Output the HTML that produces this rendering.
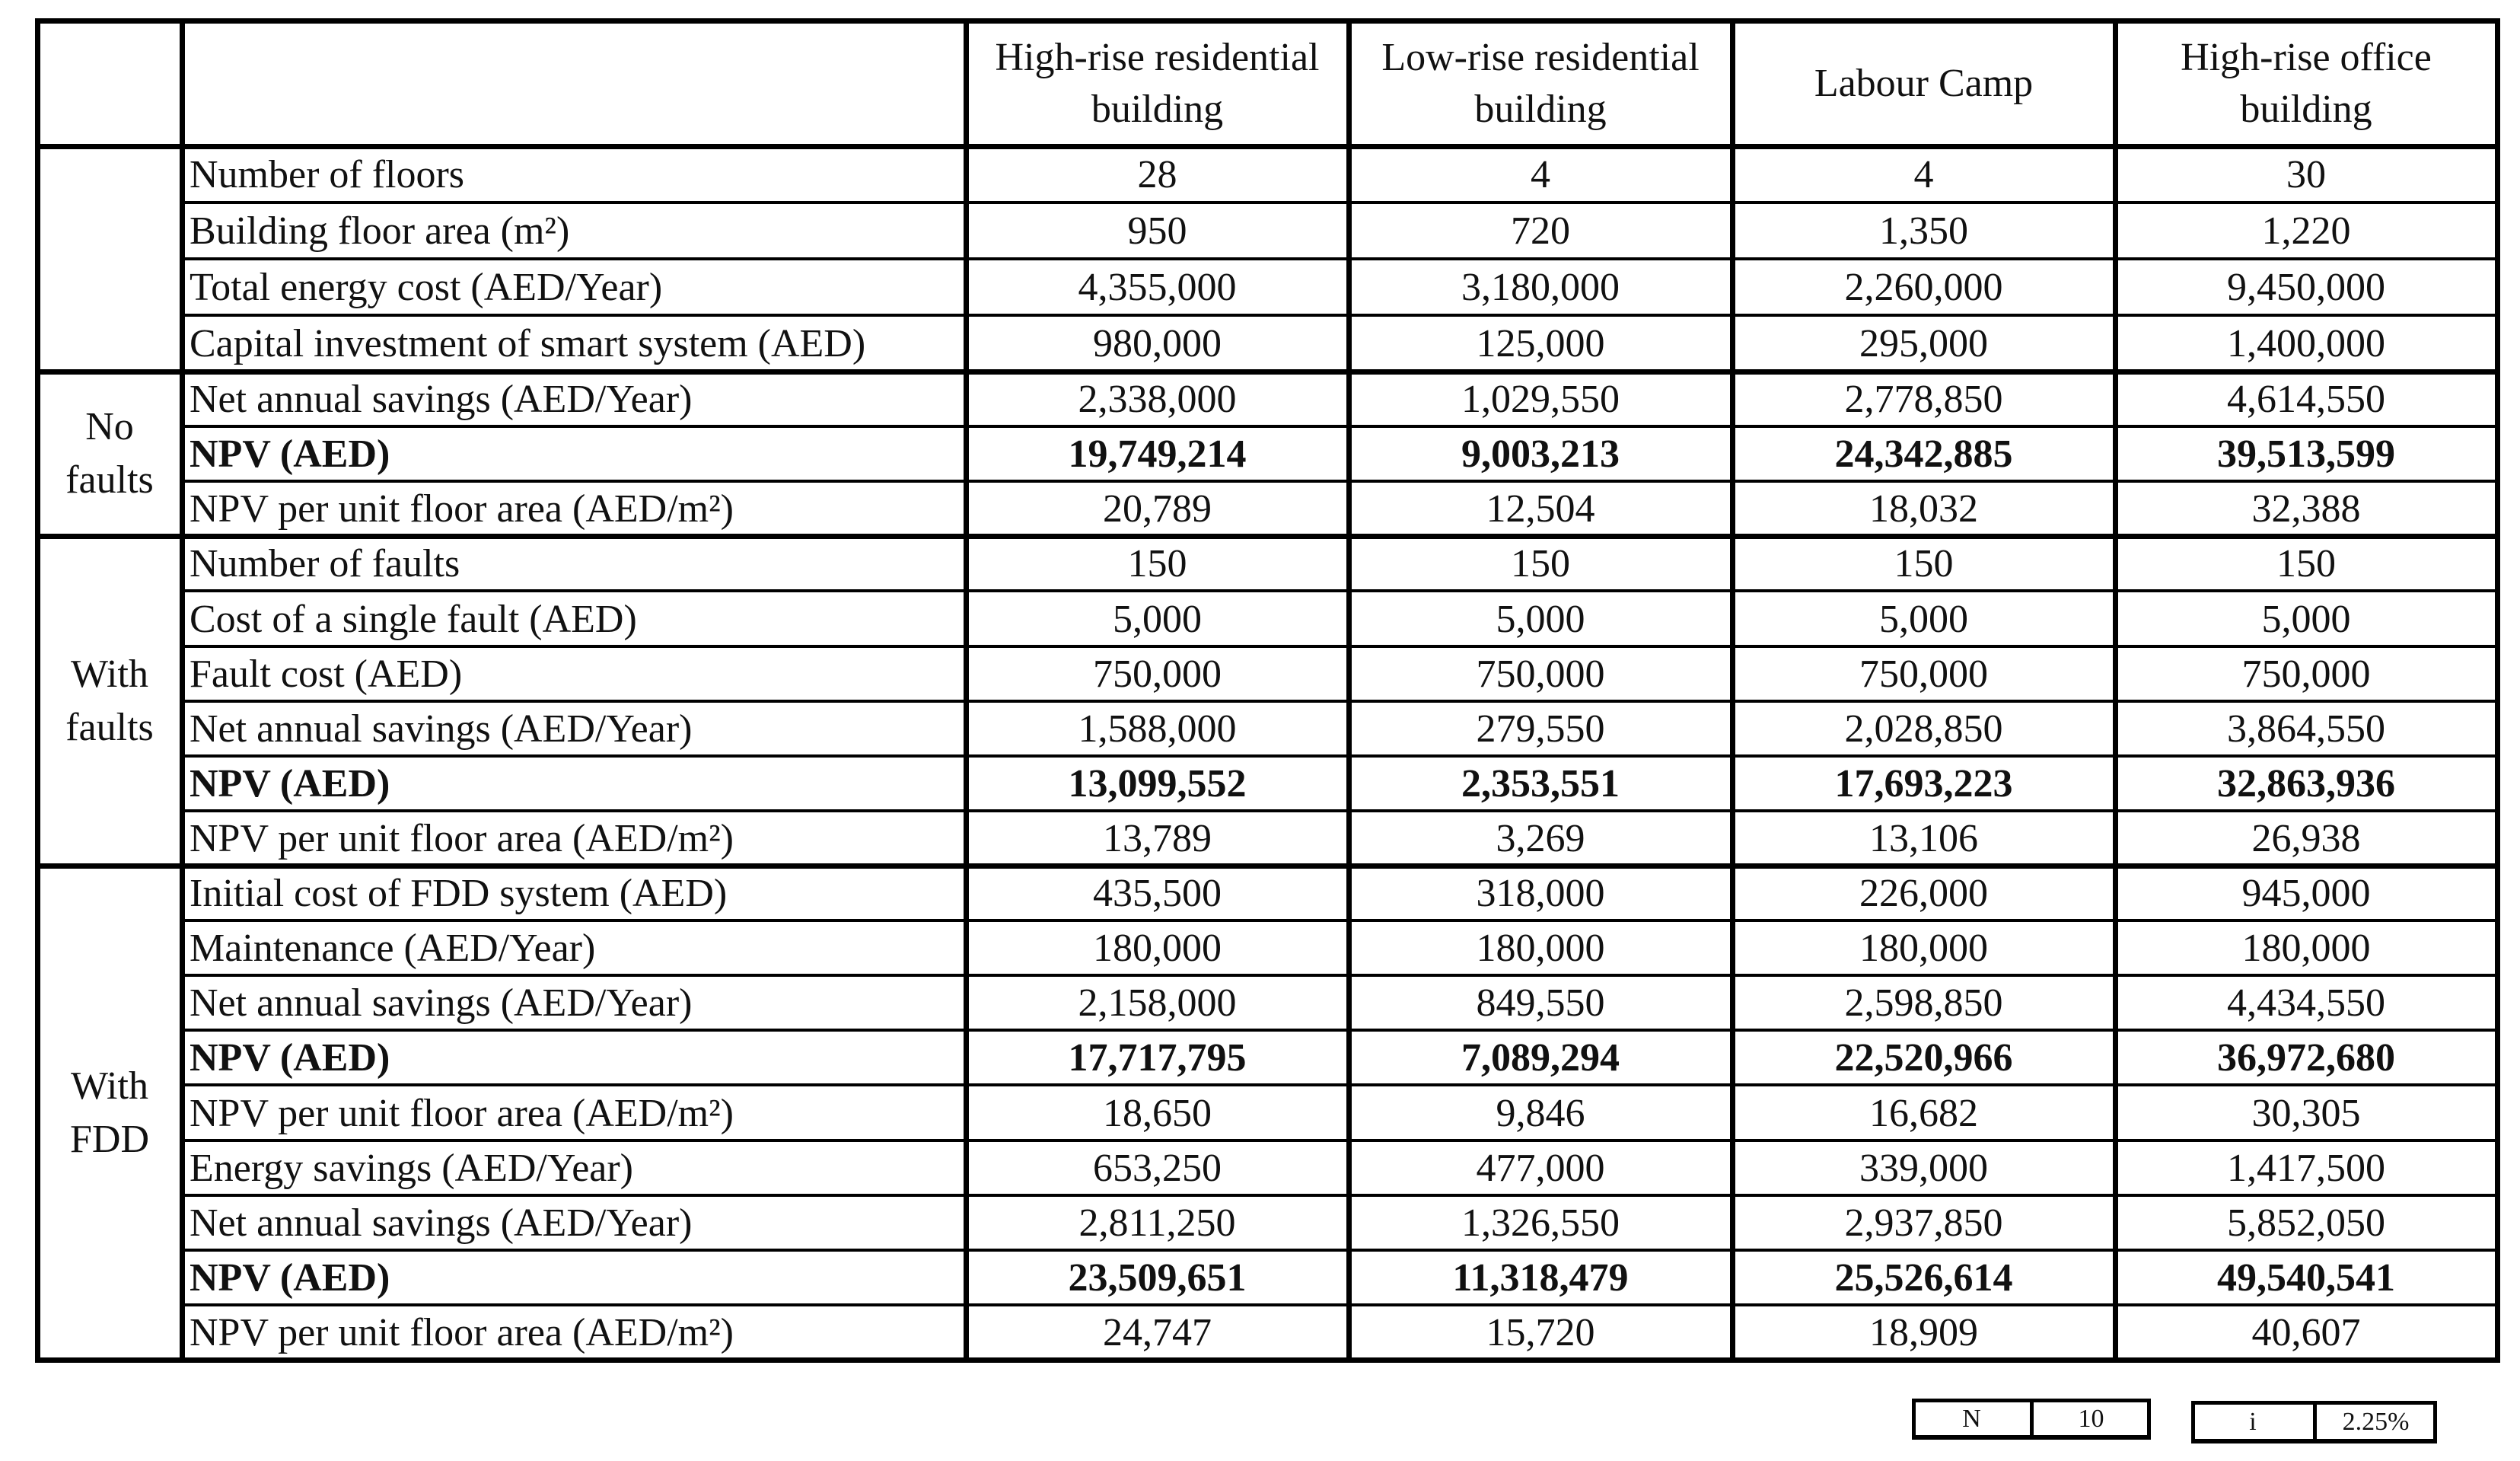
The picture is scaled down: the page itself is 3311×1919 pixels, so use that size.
<!DOCTYPE html>
<html><head><meta charset="utf-8">
<style>
html,body{margin:0;padding:0;background:#fff;}
#root{position:relative;width:3311px;height:1919px;overflow:hidden;background:#fff;font-family:"Liberation Serif","DejaVu Serif",serif;color:#111;}
.ln{position:absolute;background:#000;}
.t{position:absolute;font-size:52px;line-height:70px;white-space:nowrap;}
.c{text-align:center;}
.b{font-weight:bold;}
</style></head>
<body>
<div id="root"></div>
<script>
const colX=[49,239,1269,1772,2276,2779,3281];
const headers=[["High-rise residential","building"],["Low-rise residential","building"],["Labour Camp"],["High-rise office","building"]];
const labels=["Number of floors","Building floor area (m²)","Total energy cost (AED/Year)","Capital investment of smart system (AED)","Net annual savings (AED/Year)","NPV (AED)","NPV per unit floor area (AED/m²)","Number of faults","Cost of a single fault (AED)","Fault cost (AED)","Net annual savings (AED/Year)","NPV (AED)","NPV per unit floor area (AED/m²)","Initial cost of FDD system (AED)","Maintenance (AED/Year)","Net annual savings (AED/Year)","NPV (AED)","NPV per unit floor area (AED/m²)","Energy savings (AED/Year)","Net annual savings (AED/Year)","NPV (AED)","NPV per unit floor area (AED/m²)"];
const colHR=["28","950","4,355,000","980,000","2,338,000","19,749,214","20,789","150","5,000","750,000","1,588,000","13,099,552","13,789","435,500","180,000","2,158,000","17,717,795","18,650","653,250","2,811,250","23,509,651","24,747"];
const colLR=["4","720","3,180,000","125,000","1,029,550","9,003,213","12,504","150","5,000","750,000","279,550","2,353,551","3,269","318,000","180,000","849,550","7,089,294","9,846","477,000","1,326,550","11,318,479","15,720"];
const colLC=["4","1,350","2,260,000","295,000","2,778,850","24,342,885","18,032","150","5,000","750,000","2,028,850","17,693,223","13,106","226,000","180,000","2,598,850","22,520,966","16,682","339,000","2,937,850","25,526,614","18,909"];
const colHO=["30","1,220","9,450,000","1,400,000","4,614,550","39,513,599","32,388","150","5,000","750,000","3,864,550","32,863,936","26,938","945,000","180,000","4,434,550","36,972,680","30,305","1,417,500","5,852,050","49,540,541","40,607"];
const boldRows=[5,11,16,20];
const groups=[{name:["No","faults"],from:4,to:7},{name:["With","faults"],from:7,to:13},{name:["With","FDD"],from:13,to:22}];
const root=document.getElementById('root');
const top0=27, headBot=192;
function rowY(i){return i<=4?headBot+74*i:headBot+296+(1786-488)/18*(i-4);}
const thick=[0,4,7,13,22];
function line(x,y,w,h,name){
  const d=document.createElement('div');d.className='ln';
  d.style.left=x+'px';d.style.top=y+'px';d.style.width=w+'px';d.style.height=h+'px';
  
  
  root.appendChild(d);
}
function text(str,x,y,w,cls,name){
  const d=document.createElement('div');d.className='t '+cls;
  d.style.left=x+'px';d.style.top=(y-35)+'px';if(w)d.style.width=w+'px';
  d.textContent=str;
  
  
  root.appendChild(d);
}
line(colX[0]-3,top0-3,colX[6]-colX[0]+7,7,'table-top-border');
line(colX[0]-3,headBot-3,colX[6]-colX[0]+7,7,'header-bottom-border');
for(let i=1;i<=22;i++){
  const y=rowY(i);
  if(thick.includes(i)) line(colX[0]-3,y-3,colX[6]-colX[0]+7,7,'group-border');
  else line(colX[1],y-2,colX[6]-colX[1],4,'row-border');
}
colX.forEach((x,k)=>{line(x-3,top0-3,7,1786-top0+6,'column-border');});
headers.forEach((h,k)=>{
  const x=colX[k+2],w=colX[k+3]-x,cy=(top0+headBot)/2;
  h.forEach((s,j)=>{text(s,x,cy+(j-(h.length-1)/2)*68,w,'c','header-'+k);});
});
groups.forEach(g=>{
  const cy=(rowY(g.from)+rowY(g.to))/2;
  g.name.forEach((s,j)=>text(s,colX[0],cy+(j-0.5)*70,colX[1]-colX[0],'c','group-label'));
});
const cols=[colHR,colLR,colLC,colHO];
labels.forEach((l,i)=>{
  const cy=(rowY(i)+rowY(i+1))/2+1;
  const b=boldRows.includes(i)?' b':'';
  text(l,colX[1]+10,cy,null,b.trim(),'row-label');
  cols.forEach((c,k)=>text(c[i],colX[k+2],cy,colX[k+3]-colX[k+2],'c'+b,'cell-value'));
});
function box(x1,xm,x2,y1,y2,a,b,name){
  line(x1,y1,x2-x1,5,name+'-border');
  line(x1,y2-5,x2-x1,6,name+'-border');
  line(x1,y1,5,y2-y1,name+'-border');
  line(xm-2,y1,5,y2-y1,name+'-border');
  line(x2-5,y1,5,y2-y1,name+'-border');
  const cy=(y1+y2)/2;
  const d1=document.createElement('div');d1.className='t c';d1.style.fontSize='34px';
  d1.style.left=x1+'px';d1.style.width=(xm-x1)+'px';d1.style.top=(cy-35)+'px';d1.textContent=a;
  
  
  root.appendChild(d1);
  const d2=document.createElement('div');d2.className='t c';d2.style.fontSize='34px';
  d2.style.left=xm+'px';d2.style.width=(x2-xm)+'px';d2.style.top=(cy-35)+'px';d2.textContent=b;
  
  
  root.appendChild(d2);
}
box(2512,2669,2826,1837,1890,'N','10','period-box');
box(2879,3041,3202,1840,1895,'i','2.25%','rate-box');
</script>
</body></html>
